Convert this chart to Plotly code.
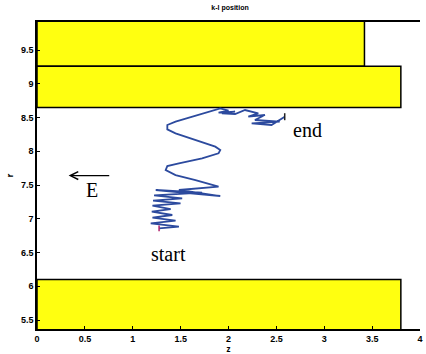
import plotly.graph_objects as go

# Particle track (z, r) through the gap between the plates
traj_z = [1.275, 1.482, 1.188, 1.447, 1.206, 1.413, 1.199, 1.396, 1.206, 1.499,
          1.212, 1.516, 1.223, 1.724, 1.240, 1.914, 1.482, 1.896, 1.655, 1.447,
          1.344, 1.361, 1.482, 1.724, 1.896, 1.914, 1.862, 1.655, 1.447, 1.361,
          1.361, 1.447, 1.655, 1.827, 1.914, 2.000, 1.896, 2.069, 1.931, 2.069,
          2.173, 2.311, 2.207, 2.380, 2.276, 2.535, 2.242, 2.449, 2.587]
traj_r = [6.858, 6.883, 6.932, 6.972, 7.016, 7.056, 7.105, 7.144, 7.194, 7.228,
          7.268, 7.302, 7.347, 7.386, 7.426, 7.337, 7.426, 7.475, 7.574, 7.648,
          7.722, 7.781, 7.821, 7.895, 7.969, 8.019, 8.068, 8.167, 8.265, 8.325,
          8.389, 8.438, 8.522, 8.601, 8.636, 8.601, 8.572, 8.586, 8.562, 8.552,
          8.611, 8.562, 8.512, 8.537, 8.463, 8.438, 8.414, 8.389, 8.512]

# Electrode slabs: z extent and r extent
slab_z0 = [0.0, 0.0, 0.0]
slab_z1 = [3.42, 3.80, 3.80]
slab_r0 = [9.26, 8.65, 5.30]
slab_r1 = [10.0, 9.26, 6.10]

x_ticks = [0, 0.5, 1, 1.5, 2, 2.5, 3, 3.5, 4]
y_ticks = [5.5, 6, 6.5, 7, 7.5, 8, 8.5, 9, 9.5]

fig = go.Figure()

for z0, z1, r0, r1 in zip(slab_z0, slab_z1, slab_r0, slab_r1):
    fig.add_shape(type="rect", xref="x", yref="y", x0=z0, x1=z1, y0=r0, y1=r1,
                  fillcolor="#ffff10", line=dict(color="black", width=1.5),
                  layer="below")

fig.add_trace(go.Scatter(x=traj_z, y=traj_r, mode="lines",
                         line=dict(color="#2c4a9e", width=1.8),
                         showlegend=False, hoverinfo="skip"))
fig.add_trace(go.Scatter(x=traj_z[:1], y=traj_r[:1], mode="markers",
                         marker=dict(color="#b0206a", size=4, symbol="line-ns",
                                     line=dict(color="#b0206a", width=1.5)),
                         showlegend=False, hoverinfo="skip"))
fig.add_trace(go.Scatter(x=traj_z[-1:], y=traj_r[-1:], mode="markers",
                         marker=dict(color="#222", size=5, symbol="line-ns",
                                     line=dict(color="#222", width=1.5)),
                         showlegend=False, hoverinfo="skip"))

serif = "Liberation Serif, DejaVu Serif, serif"
fig.add_annotation(x=2.65, y=8.31, text="end", showarrow=False,
                   font=dict(family=serif, size=20, color="black"),
                   xanchor="left", yanchor="middle")
fig.add_annotation(x=1.17, y=6.48, text="start", showarrow=False,
                   font=dict(family=serif, size=20, color="black"),
                   xanchor="left", yanchor="middle")
fig.add_annotation(x=0.57, y=7.42, text="E", showarrow=False,
                   font=dict(family=serif, size=20, color="black"),
                   xanchor="center", yanchor="middle")
fig.add_annotation(x=0.33, y=7.64, ax=0.77, ay=7.64, axref="x", ayref="y",
                   xref="x", yref="y", text="", showarrow=True,
                   arrowhead=5, arrowsize=1.3, arrowwidth=1.2,
                   arrowcolor="black")

tickfont = dict(family="Liberation Sans, Arial", size=9, color="black")
fig.update_xaxes(range=[0, 4], tickvals=x_ticks,
                 ticktext=[f"<b>{v:g}</b>" for v in x_ticks],
                 ticks="inside", ticklen=3, tickcolor="black",
                 showline=True, linecolor="black", linewidth=1.5, mirror=True,
                 showgrid=False, zeroline=False, tickfont=tickfont,
                 title=dict(text="<b>z</b>", font=dict(size=8, color="black"),
                            standoff=2))
fig.update_yaxes(range=[5.367, 9.915], tickvals=y_ticks,
                 ticktext=[f"<b>{v:g}</b>" for v in y_ticks],
                 ticks="inside", ticklen=3, tickcolor="black",
                 showline=True, linecolor="black", linewidth=1.5,
                 showgrid=False, zeroline=False, tickfont=tickfont,
                 title=dict(text="<b>r</b>", font=dict(size=8, color="black"),
                            standoff=6))

fig.update_layout(
    width=426, height=354,
    margin=dict(l=37, r=3, t=22, b=25),
    paper_bgcolor="white", plot_bgcolor="white",
    title=dict(text="<b>k-l position</b>", x=0.54, xanchor="center",
               y=0.985, yanchor="top",
               font=dict(family="Arial", size=7, color="black")),
)

fig.write_html("out.html")
